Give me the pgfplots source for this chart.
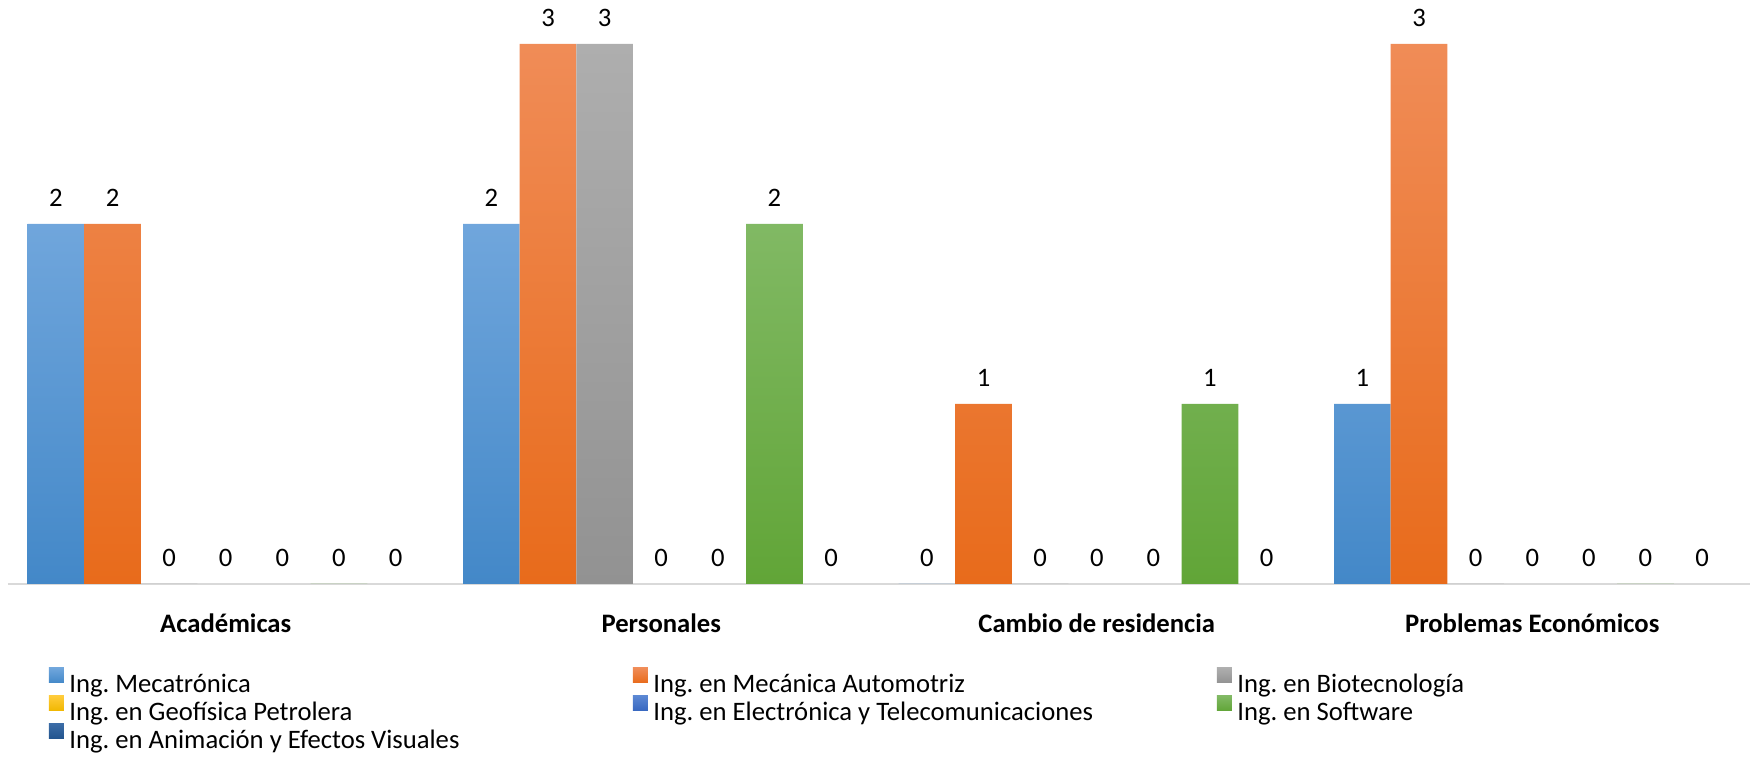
\documentclass[border=0pt]{standalone}
\usepackage{pgfplots}
\usepackage{pgfplotstable}
\pgfplotsset{compat=1.18}
\usepackage{fontspec}
\setmainfont{Carlito}
\frenchspacing
\definecolor{bAt}{HTML}{70A6DC}\definecolor{bAb}{HTML}{4388C8}
\definecolor{bBt}{HTML}{F08C57}\definecolor{bBb}{HTML}{E86B1B}
\definecolor{bCt}{HTML}{AEAEAE}\definecolor{bCb}{HTML}{929292}
\definecolor{bDt}{HTML}{FFCB3A}\definecolor{bDb}{HTML}{F0B700}
\definecolor{bEt}{HTML}{5B87D3}\definecolor{bEb}{HTML}{3767C0}
\definecolor{bFt}{HTML}{81B964}\definecolor{bFb}{HTML}{61A537}
\definecolor{bGt}{HTML}{3B6CA6}\definecolor{bGb}{HTML}{22548E}
\pgfplotstableread{
x A B C D E F G
0 2 2 0 0 0 0 0
1 2 3 3 0 0 2 0
2 0 1 0 0 0 1 0
3 1 3 0 0 0 0 0
}\data
\newcommand{\legtxt}[1]{\makebox[281.8pt][l]{\rule[-4.5pt]{0pt}{15.5pt}#1}}
\begin{document}
\begin{tikzpicture}[font=\fontsize{13.33}{16}\selectfont]
\useasboundingbox (-4pt,-87pt) rectangle (871.5pt,292pt);
\begin{axis}[
  scale only axis, width=871pt, height=292pt,
  xmin=-0.5, xmax=3.5, ymin=0, ymax=3.2444,
  clip=false,
  ybar=0pt, bar width=0.13,
  axis x line=bottom, axis y line=none,
  x axis line style={-, draw=black!15, line width=1.3pt},
  xtick={0,1,2,3},
  xticklabels={Académicas, Personales, Cambio de residencia, Problemas Económicos},
  xtick style={draw=none},
  xticklabel style={font=\fontsize{13.33}{16}\selectfont\bfseries, anchor=base, yshift=-22pt},
  ytick=\empty,
  /pgf/number format/assume math mode=true,
  nodes near coords,
  nodes near coords style={anchor=base, yshift=8.8pt, font=\fontsize{13.33}{16}\selectfont, text=black},
  legend columns=3,
  legend cell align=left,
  legend style={at={(0.023536,-0.14384)}, anchor=north west, draw=none, fill=none,
    inner sep=0pt, outer sep=0pt, row sep=0pt, column sep=0pt,
    nodes={inner sep=0pt, outer sep=0pt},
    /tikz/every odd column/.append style={column sep=2.7pt},
    font=\fontsize{13.33}{16}\selectfont},
  mybar/.style={draw=none, top color=#1t, bottom color=#1b,
    legend image code/.code={\path[##1] (0pt,0.2pt) rectangle (7.5pt,7.7pt);}},
]
\addplot[mybar=bA] table[x=x,y=A]{\data};
\addlegendentry{\legtxt{Ing. Mecatrónica}}
\addplot[mybar=bB] table[x=x,y=B]{\data};
\addlegendentry{\legtxt{Ing. en Mecánica Automotriz}}
\addplot[mybar=bC] table[x=x,y=C]{\data};
\addlegendentry{\legtxt{Ing. en Biotecnología}}
\addplot[mybar=bD] table[x=x,y=D]{\data};
\addlegendentry{\legtxt{Ing. en Geofísica Petrolera}}
\addplot[mybar=bE] table[x=x,y=E]{\data};
\addlegendentry{\legtxt{Ing. en Electrónica y Telecomunicaciones}}
\addplot[mybar=bF] table[x=x,y=F]{\data};
\addlegendentry{\legtxt{Ing. en Software}}
\addplot[mybar=bG] table[x=x,y=G]{\data};
\addlegendentry{\legtxt{Ing. en Animación y Efectos Visuales}}
\end{axis}
\end{tikzpicture}
\end{document}
